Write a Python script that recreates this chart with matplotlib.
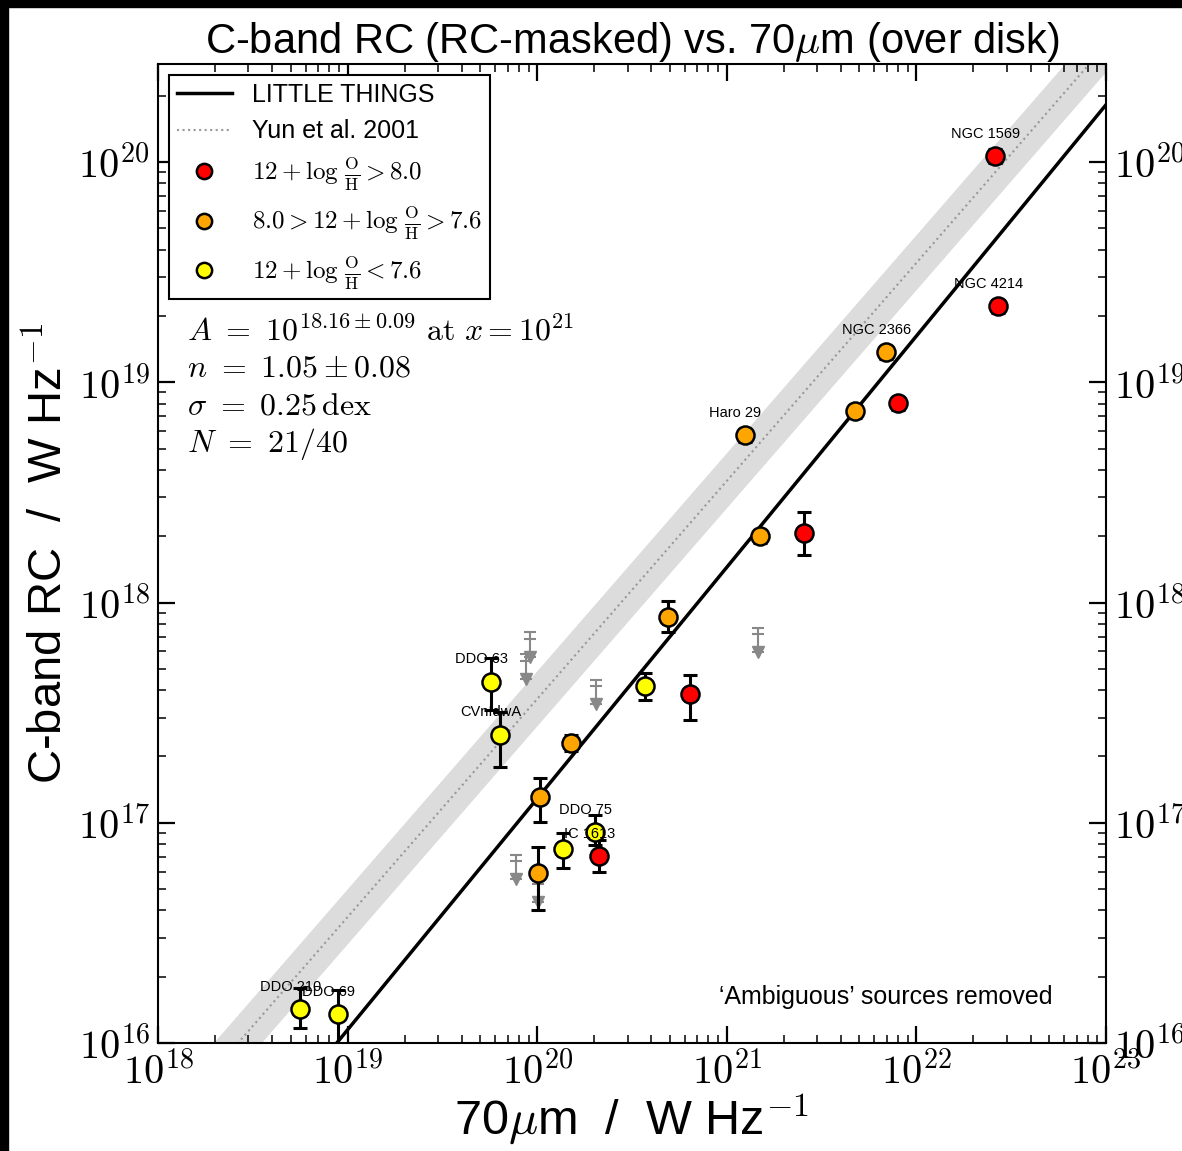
import numpy as np
import matplotlib
matplotlib.use("Agg")
import matplotlib.pyplot as plt
from matplotlib.lines import Line2D
from matplotlib.patches import Rectangle
from matplotlib.ticker import FuncFormatter, LogLocator

plt.rcParams['mathtext.fontset'] = 'cm'
plt.rcParams['font.family'] = ['Liberation Sans', 'DejaVu Sans']

# detections (log10 values)
names = ["NGC 1569", "NGC 4214", "NGC 2366", "", "", "Haro 29", "", "",
         "", "", "", "", "DDO 63", "CVnIdwA", "", "DDO 75", "IC 1613", "",
         "", "DDO 210", "DDO 69"]
log_fir = [22.415, 22.430, 21.840, 21.676, 21.903, 21.096, 21.175, 21.407,
           20.690, 20.806, 20.568, 20.178, 19.756, 19.804, 20.015, 20.305,
           20.326, 20.136, 20.004, 18.749, 18.949]
log_rc = [20.027, 19.345, 19.136, 18.868, 18.905, 18.759, 18.300, 18.314,
          17.936, 17.586, 17.623, 17.364, 17.641, 17.400, 17.118, 16.959,
          16.850, 16.882, 16.773, 16.155, 16.132]
log_rc_hi = [20.057, 19.375, 19.166, 18.898, 18.935, 18.789, 18.330, 18.410,
             18.005, 17.673, 17.682, 17.400, 17.750, 17.505, 17.205, 17.036,
             16.920, 16.955, 16.891, 16.250, 16.241]
log_rc_lo = [19.997, 19.315, 19.106, 18.838, 18.875, 18.729, 18.270, 18.214,
             17.868, 17.468, 17.559, 17.327, 17.514, 17.255, 17.005, 16.900,
             16.777, 16.795, 16.605, 16.068, 15.900]
metal = ["hi", "hi", "mid", "mid", "hi", "mid", "mid", "hi",
         "mid", "hi", "lo", "mid", "lo", "lo", "mid", "lo",
         "hi", "lo", "mid", "lo", "lo"]

# upper limits
ul_log_fir = [19.962, 19.941, 20.309, 21.164, 19.888, 20.004]
ul_log_rc = [17.864, 17.764, 17.650, 17.886, 16.855, 16.750]

# fit + Yun et al. 2001
fit_logA, fit_n, fit_x0 = 18.16, 1.05, 21.0
yun_slope, yun_icpt, yun_band = 0.99, -2.238, 0.125

colors = {"hi": "#ff0000", "mid": "#ffa500", "lo": "#ffff00"}

fig = plt.figure(figsize=(11.82, 11.51), dpi=100)
ax = fig.add_axes([158 / 1182, 1 - 1043 / 1151, 948 / 1182, 979 / 1151])
ax.set_xscale('log')
ax.set_yscale('log')
ax.set_xlim(1e18, 1e23)
ax.set_ylim(1e16, 10 ** 20.445)

lx = np.array([17.5, 23.5])
xx = 10 ** lx
yun = yun_slope * lx + yun_icpt
ax.fill_between(xx, 10 ** (yun - yun_band), 10 ** (yun + yun_band),
                color='#dcdcdc', lw=0, zorder=1)
ax.plot(xx, 10 ** yun, ls=':', color='#999999', lw=1.5, zorder=2)
ax.plot(xx, 10 ** (fit_logA + fit_n * (lx - fit_x0)), color='k', lw=2.5, zorder=3)

# upper limits
ulx = 10 ** np.array(ul_log_fir)
uly = 10 ** np.array(ul_log_rc)
ax.errorbar(ulx, uly, yerr=[uly - uly * 10 ** -0.11, np.zeros_like(uly)],
            fmt='none', ecolor='#888888', elinewidth=1.5, capsize=4, capthick=1.5, zorder=3)
ax.plot(ulx, uly * 10 ** -0.03, ls='none', marker='_', ms=8, mew=1.5, color='#888888', zorder=3)
ax.plot(ulx, uly * 10 ** -0.11, ls='none', marker='v', ms=9, color='#888888', zorder=3)

x = 10 ** np.array(log_fir)
y = 10 ** np.array(log_rc)
yerr = [y - 10 ** np.array(log_rc_lo), 10 ** np.array(log_rc_hi) - y]
ax.errorbar(x, y, yerr=yerr, fmt='none', ecolor='k', elinewidth=2.2,
            capsize=5, capthick=2.2, zorder=4)
for xi, yi, m in zip(x, y, metal):
    ax.plot(xi, yi, 'o', ms=13, mfc=colors[m], mec='k', mew=1.8, zorder=5)
for xi, yi, nm in zip(x, y, names):
    if nm:
        ax.annotate(nm, (xi, yi), xytext=(-7, 16), textcoords='offset points',
                    ha='center', va='center', fontsize=10.5, zorder=6)

fmt = FuncFormatter(lambda v, p: r"$10^{%d}$" % int(round(np.log10(v))))
ax.xaxis.set_major_locator(LogLocator(base=10, numticks=10))
ax.yaxis.set_major_locator(LogLocator(base=10, numticks=10))
ax.xaxis.set_major_formatter(fmt)
ax.yaxis.set_major_formatter(fmt)

ax.tick_params(which='both', direction='in', top=True, right=True,
               labelright=True, labelsize=29)
ax.tick_params(which='major', length=12, width=1.6, pad=6)
ax.tick_params(which='minor', length=6, width=1.1)
for s in ax.spines.values():
    s.set_linewidth(1.5)

ax.set_xlabel(r"70$\mu$m  /  W Hz$^{-1}$", fontsize=35, labelpad=0)
ax.set_ylabel(r"C-band RC  /  W Hz$^{-1}$", fontsize=34, labelpad=4)
ax.set_title(r"C-band RC (RC-masked) vs. 70$\mu$m (over disk)", fontsize=30, pad=5)

handles = [
    Line2D([], [], color='k', lw=2.5),
    Line2D([], [], color='#999999', ls=':', lw=1.5),
    Line2D([], [], ls='none', marker='o', ms=11, mfc=colors["hi"], mec='k', mew=1.8),
    Line2D([], [], ls='none', marker='o', ms=11, mfc=colors["mid"], mec='k', mew=1.8),
    Line2D([], [], ls='none', marker='o', ms=11, mfc=colors["lo"], mec='k', mew=1.8),
]
labels = ["LITTLE THINGS", "Yun et al. 2001",
          r"$12 + \log\,\frac{\mathrm{O}}{\mathrm{H}} > 8.0$",
          r"$8.0 > 12 + \log\,\frac{\mathrm{O}}{\mathrm{H}} > 7.6$",
          r"$12 + \log\,\frac{\mathrm{O}}{\mathrm{H}} < 7.6$"]
leg = ax.legend(handles, labels, loc='upper left', fontsize=18, frameon=True,
                fancybox=False, edgecolor='k', framealpha=1, borderaxespad=0.45,
                handlelength=2.2, labelspacing=0.5, borderpad=0.3)
leg.get_frame().set_linewidth(1.5)

stats = [r"$A\ =\ 10^{18.16\pm0.09}\ \mathrm{at}\ x = 10^{21}$",
         r"$n\ =\ 1.05\pm0.08$",
         r"$\sigma\ =\ 0.25\,\mathrm{dex}$",
         r"$N\ =\ 21/40$"]
for i, s in enumerate(stats):
    ax.text(0.031, 0.727 - i * 0.0385, s, transform=ax.transAxes, fontsize=23,
            va='center', ha='left')

ax.text(0.944, 0.047, "\u2018Ambiguous\u2019 sources removed", transform=ax.transAxes,
        fontsize=18, ha='right', va='center')

# black frame strips on the left and top edges
fig.patches.append(Rectangle((0, 0), 8 / 1182, 1, transform=fig.transFigure,
                             color='k', zorder=10))
fig.patches.append(Rectangle((0, 1 - 7 / 1151), 1, 7 / 1151, transform=fig.transFigure,
                             color='k', zorder=10))

fig.savefig("out.png", dpi=100)
